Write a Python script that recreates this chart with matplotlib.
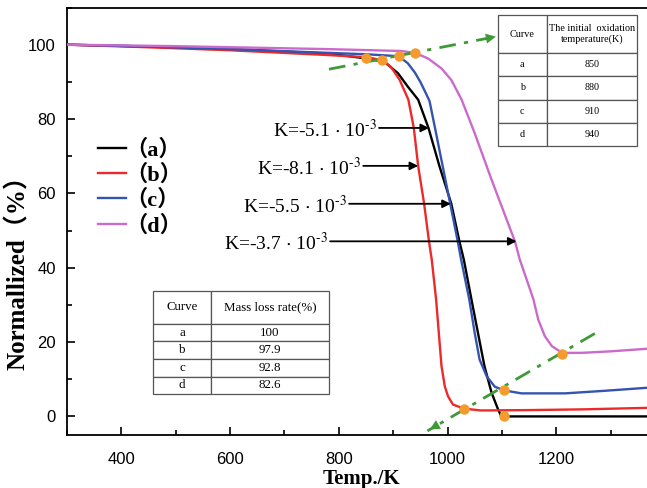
import matplotlib
matplotlib.use("Agg")
import matplotlib.pyplot as plt
from matplotlib.ticker import MultipleLocator
from matplotlib.font_manager import FontProperties

plt.rcParams['mathtext.fontset'] = 'stix'

# ---------- data ----------
temp_a = [300, 450, 550, 650, 781, 850, 884, 909, 927, 946, 965, 985, 1007, 1022, 1030,
          1044, 1056, 1068, 1081, 1093, 1099, 1367]
mass_a = [100, 99.5, 99.1, 98.5, 97.6, 96.3, 95.4, 92.3, 88.7, 85.2, 77.6, 67.4, 57.2, 47.0, 42.2,
          31.5, 22.5, 13.5, 6.4, 1.9, 0.0, 0.0]

temp_b = [300, 450, 600, 781, 853, 880, 896, 912, 928, 938, 946, 957, 966, 971, 979, 984,
          989, 995, 1001, 1010, 1030, 1062, 1150, 1250, 1367]
mass_b = [100, 99.3, 98.5, 97.2, 96.6, 95.8, 94.0, 90.5, 85.2, 77.6, 67.4, 57.2, 47.0, 42.2, 31.5, 22.5,
          13.5, 8.1, 5.4, 3.2, 2.1, 1.6, 1.7, 1.9, 2.3]

temp_c = [300, 450, 600, 781, 853, 910, 927, 940, 950, 960, 967, 977, 991, 1005, 1019, 1025, 1040,
          1050, 1059, 1072, 1087, 1104, 1136, 1216, 1280, 1367]
mass_c = [100, 99.5, 98.8, 97.8, 97.4, 96.9, 95.0, 92.5, 90.0, 87.0, 84.8, 77.6, 67.4, 57.2, 47.0, 42.2,
          31.5, 22.5, 15.3, 10.8, 8.0, 7.0, 6.2, 6.2, 6.8, 7.7]

temp_d = [300, 500, 781, 915, 940, 964, 989, 1007, 1026, 1050, 1081, 1124, 1133, 1158, 1167,
          1179, 1192, 1211, 1247, 1300, 1367]
mass_d = [100, 99.6, 98.8, 98.3, 97.8, 96.3, 93.6, 90.5, 85.2, 76.2, 63.7, 47.1, 42.2, 31.5, 26.0,
          21.6, 18.9, 17.1, 17.1, 17.5, 18.2]

curves = ['a', 'b', 'c', 'd']
labels = ['（a）', '（b）', '（c）', '（d）']
colors = ['#000000', '#ec2a2a', '#3554b0', '#cc6acb']

# initial oxidation points / end of mass loss points
onset_T = [850, 880, 910, 940]
onset_W = [96.3, 95.8, 96.9, 97.8]
end_T = [1030, 1104, 1104, 1211]
end_W = [2.1, 0.2, 7.1, 16.9]

loss_rate = ['100', '97.9', '92.8', '82.6']

# slope annotations: label, arrow y, arrow start x, arrow tip x
slope_txt = ['-5.1', '-8.1', '-5.5', '-3.7']
slope_y = [77.6, 67.4, 57.2, 47.1]
slope_x0 = [874, 845, 819, 784]
slope_x1 = [966, 946, 1006, 1127]

# green guide lines (start, end)
guide_top = ([782, 1094], [93.4, 102.3])
guide_bot = ([1271, 963], [22.3, -3.9])

serif = 'Liberation Serif'
cjk = ['Liberation Serif', 'Noto Sans CJK SC']
green = '#3e9a36'
orange = '#f39b2f'

fig = plt.figure(figsize=(6.47, 4.88), dpi=100)
ax = fig.add_axes([67 / 647, 53 / 488, 580 / 647, 427.5 / 488])

for t, m, c, lab in zip([temp_a, temp_b, temp_c, temp_d], [mass_a, mass_b, mass_c, mass_d], colors, labels):
    ax.plot(t, m, color=c, lw=1.7, label=lab, zorder=3)

# green dash-dot guides with arrow heads
for gx, gy in [guide_top, guide_bot]:
    ax.plot(gx, gy, color=green, lw=2.0, linestyle=(0, (6, 3, 1.5, 3)), zorder=4)
    ax.annotate('', xy=(gx[1], gy[1]),
                xytext=(gx[1] - (gx[1] - gx[0]) * 0.08, gy[1] - (gy[1] - gy[0]) * 0.08),
                arrowprops=dict(arrowstyle='-|>', color=green, lw=0, mutation_scale=18), zorder=4)

ax.plot(onset_T, onset_W, 'o', color=orange, ms=7.5, mec='none', zorder=5)
ax.plot(end_T, end_W, 'o', color=orange, ms=7.5, mec='none', zorder=5)

# slope arrows
for s, y, x0, x1 in zip(slope_txt, slope_y, slope_x0, slope_x1):
    ax.annotate('', xy=(x1, y), xytext=(x0, y),
                arrowprops=dict(arrowstyle='-|>', color='black', lw=1.3, mutation_scale=12,
                                shrinkA=0, shrinkB=0), zorder=6)
    ax.text(x0 - 4, y - 2.4, 'K=' + s + r'$\,\cdot\,$10$^{\text{-}3}$', ha='right', va='baseline',
            fontsize=14, family=serif, zorder=6)

ax.set_xlim(300, 1367)
ax.set_ylim(-5, 110)
ax.xaxis.set_major_locator(MultipleLocator(200))
ax.xaxis.set_minor_locator(MultipleLocator(100))
ax.yaxis.set_major_locator(MultipleLocator(20))
ax.yaxis.set_minor_locator(MultipleLocator(10))
ax.tick_params(which='both', direction='in', width=1.2)
ax.tick_params(which='major', length=6, labelsize=12)
ax.tick_params(axis='x', which='major', pad=12)
ax.tick_params(axis='y', which='major', pad=8)
ax.tick_params(which='minor', length=3.5)
for lbl in ax.get_xticklabels() + ax.get_yticklabels():
    lbl.set_family('Liberation Sans')
for sp in ['left', 'bottom', 'top']:
    ax.spines[sp].set_linewidth(1.3)
ax.spines['right'].set_visible(False)

ax.set_xlabel('Temp./K', fontsize=15, fontweight='bold', family=serif)
ax.xaxis.set_label_coords(0.507, -0.08)
ax.set_ylabel('Normallized（%）', fontsize=18, fontweight='bold', family=cjk)
ax.yaxis.set_label_coords(-0.064, 0.395)

leg = ax.legend(loc='upper left', bbox_to_anchor=(0.053, 0.692), frameon=False,
                prop=FontProperties(family=cjk, weight='bold', size=16),
                handlelength=1.25, handletextpad=0.0, labelspacing=0.18, borderpad=0, borderaxespad=0)

# table: initial oxidation temperature
tbl1 = ax.table(cellText=[[c, str(t)] for c, t in zip(curves, onset_T)],
                colLabels=['Curve', 'The initial  oxidation\ntemperature(K)'],
                colWidths=[0.352, 0.648], cellLoc='center',
                bbox=[0.7426, 0.6767, 0.240, 0.3057], zorder=7)
tbl1.auto_set_font_size(False)
tbl1.set_fontsize(7.3)
for (r, c), cell in tbl1.get_celld().items():
    cell.set_edgecolor('#555555')
    cell.set_linewidth(0.9)
    cell.set_height(38.3 if r == 0 else 23.1)
    cell.get_text().set_family(serif)

# table: mass loss rate
tbl2 = ax.table(cellText=[[c, v] for c, v in zip(curves, loss_rate)],
                colLabels=['Curve', 'Mass loss rate(%)'],
                colWidths=[0.327, 0.673], cellLoc='center',
                bbox=[0.1488, 0.0952, 0.303, 0.2423], zorder=7)
tbl2.auto_set_font_size(False)
tbl2.set_fontsize(9.3)
for (r, c), cell in tbl2.get_celld().items():
    cell.set_edgecolor('#555555')
    cell.set_linewidth(0.9)
    cell.set_height(33.3 if r == 0 else 17.7)
    cell.get_text().set_family(serif)

fig.savefig('out.png', dpi=100)
